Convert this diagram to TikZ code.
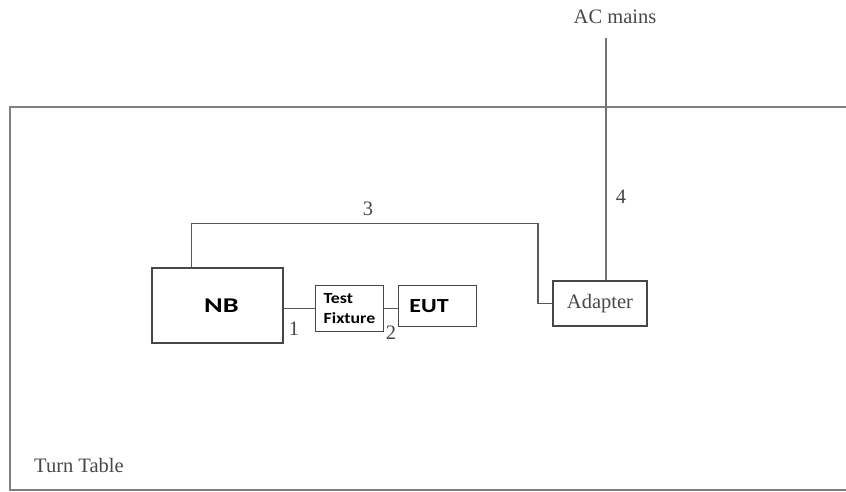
\documentclass[tikz,border=0pt]{standalone}
\usepackage{fontspec}
\setmainfont{Liberation Serif}
\newfontfamily\boxfont{Carlito}
\begin{document}
\begin{tikzpicture}[x=1pt,y=-1pt,
  unit/.style={draw=black!72, line width=1.3pt, inner sep=0pt},
  wire/.style={draw=black!65, line width=1.3pt},
  sertext/.style={text=black!72, font=\fontsize{20.5}{22}\selectfont, inner sep=0pt},
  boxtext/.style={text=black, font=\boxfont\bfseries\fontsize{20}{22}\selectfont}]
\useasboundingbox (0,0) rectangle (846,492);
% turn table outline (open to the right)
\draw[draw=black!50, line width=2pt] (846,107.5) -- (10,107.5) -- (10,490) -- (846,490);
\node[sertext, anchor=base west] (tt) at (34,472) {Turn Table};
% equipment
\node[unit, minimum width=131pt, minimum height=75pt] (nb) at (217.5,305.5) {};
\node[boxtext, font=\boxfont\bfseries\fontsize{21}{22}\selectfont, xscale=1.35] at (221.5,305.5) {NB};
\node[unit, minimum width=68pt, minimum height=46pt] (tf) at (349.5,308.5) {};
\node[boxtext, align=left, font=\boxfont\bfseries\fontsize{15.5}{20.5}\selectfont, xscale=1.15] at (tf.center) {Test\\Fixture};
\node[unit, minimum width=78pt, minimum height=41pt] (eut) at (437.5,306) {};
\node[boxtext, xscale=1.2] at (429,306) {EUT};
\node[unit, minimum width=94pt, minimum height=45pt] (ad) at (600,303.5) {};
\node[sertext] at (ad.center) {Adapter};
\node[sertext] (ac) at (615,17) {AC mains};
\coordinate (acend) at (606,38);
% cables
\coordinate (c3a) at (191.5,223.5);
\coordinate (c3b) at (538,223.5);
\draw[wire] (nb.north -| c3a) -- (c3a) -- (c3b) -- (c3b |- ad.west) -- (ad.west);
\draw[wire] (nb.east |- tf.west) -- (tf.west);
\draw[wire] (tf.east) -- (eut.west |- tf.east);
\draw[draw=black!55, line width=1.5pt] (acend) -- (ad.north -| acend);
% cable numbers
\node[sertext] (n1) at (294,329) {1};
\node[sertext] (n2) at (391,333) {2};
\node[sertext] (n3) at (368,209) {3};
\node[sertext] (n4) at (621,197) {4};
\end{tikzpicture}
\end{document}
